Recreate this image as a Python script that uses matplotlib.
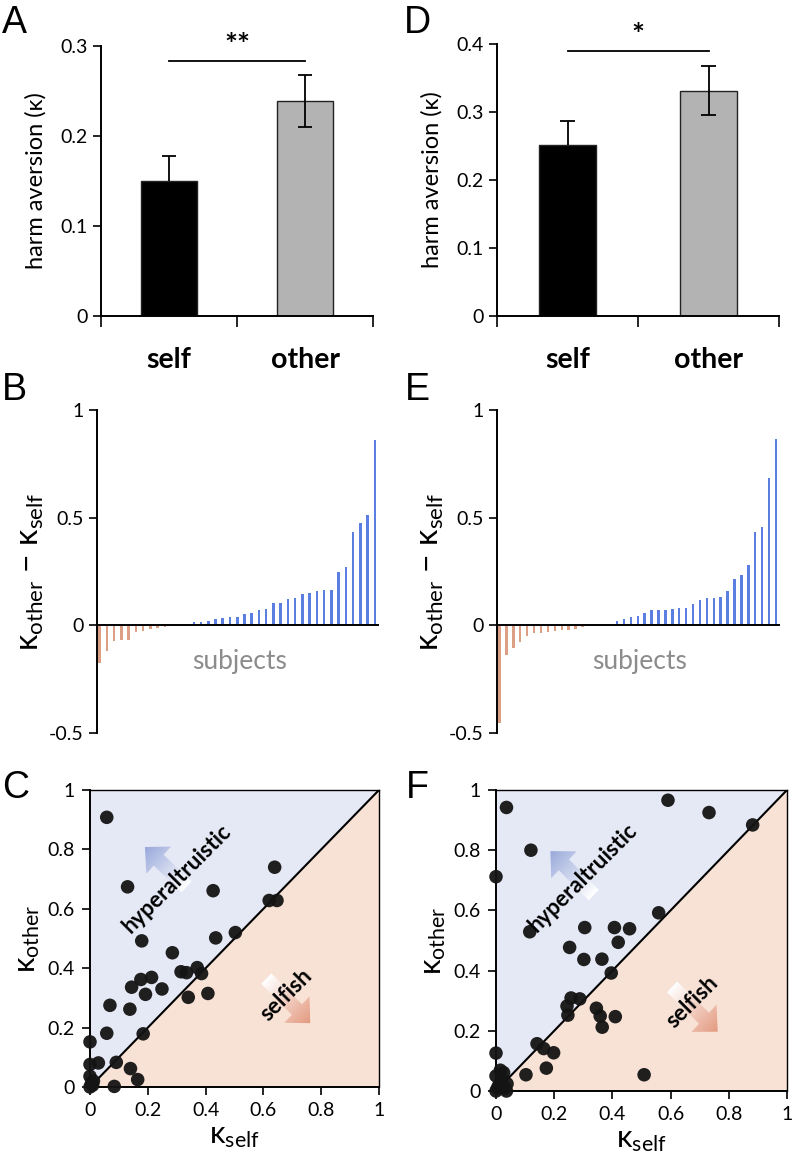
import numpy as np
import matplotlib
matplotlib.use("Agg")
import matplotlib.pyplot as plt
from matplotlib.patches import FancyArrow, Polygon
from matplotlib.colors import to_rgb

plt.rcParams['font.family'] = ['Lato', 'DejaVu Sans']
plt.rcParams['mathtext.fontset'] = 'custom'
plt.rcParams['mathtext.rm'] = 'Lato'
plt.rcParams['mathtext.it'] = 'Lato:italic'
plt.rcParams['axes.linewidth'] = 1.4

# ---- data ----
conditions = ["self", "other"]
# study 1 (A-C)
mean_1 = [0.150, 0.239]
err_lo_1 = [0.0, 0.029]
err_hi_1 = [0.028, 0.029]
sig_1 = "**"
# study 2 (D-F)
mean_2 = [0.251, 0.331]
err_lo_2 = [0.0, 0.036]
err_hi_2 = [0.036, 0.036]
sig_2 = "*"

diff_1 = [-0.175, -0.12, -0.073, -0.07, -0.067, -0.031, -0.026, -0.017, -0.012, -0.006,
          0.0, 0.0, 0.0,
          0.014, 0.017, 0.02, 0.028, 0.034, 0.04, 0.04, 0.053, 0.059, 0.07, 0.076, 0.102,
          0.105, 0.12, 0.125, 0.145, 0.149, 0.16, 0.163, 0.163, 0.25, 0.27, 0.432, 0.477,
          0.512, 0.862]
diff_2 = [-0.454, -0.139, -0.104, -0.079, -0.05, -0.037, -0.034, -0.031, -0.028, -0.023,
          -0.02, -0.015, -0.009, -0.005,
          0.0, 0.0, 0.0,
          0.019, 0.028, 0.039, 0.042, 0.057, 0.073, 0.073, 0.073, 0.076, 0.079, 0.079, 0.1,
          0.116, 0.128, 0.128, 0.133, 0.158, 0.215, 0.232, 0.282, 0.433, 0.455, 0.686, 0.867]

kself_1 = [0.058, 0.130, 0.426, 0.639, 0.620, 0.647, 0.179, 0.435, 0.503, 0.285, 0.315,
           0.334, 0.371, 0.386, 0.144, 0.176, 0.213, 0.192, 0.249, 0.340, 0.408, 0.069,
           0.138, 0.058, 0.184, 0.0, 0.0, 0.029, 0.091, 0.140, 0.165, 0.084, 0.0, 0.009,
           0.0, 0.005, 0.012]
kother_1 = [0.908, 0.674, 0.661, 0.740, 0.628, 0.628, 0.492, 0.502, 0.520, 0.452, 0.388,
            0.385, 0.402, 0.382, 0.336, 0.362, 0.369, 0.312, 0.330, 0.302, 0.315, 0.275,
            0.262, 0.181, 0.179, 0.152, 0.076, 0.081, 0.083, 0.062, 0.025, 0.002, 0.036,
            0.006, 0.0, 0.012, 0.02]

kself_2 = [0.036, 0.591, 0.732, 0.882, 0.120, 0.0, 0.559, 0.116, 0.305, 0.407, 0.459,
           0.420, 0.253, 0.302, 0.364, 0.396, 0.258, 0.288, 0.244, 0.247, 0.345, 0.358,
           0.410, 0.365, 0.141, 0.164, 0.198, 0.173, 0.103, 0.509, 0.0, 0.015, 0.026,
           0.038, 0.036, 0.0, 0.01, 0.02, 0.005, 0.03, 0.0]
kother_2 = [0.942, 0.966, 0.925, 0.884, 0.800, 0.712, 0.592, 0.529, 0.543, 0.543, 0.539,
            0.494, 0.477, 0.437, 0.438, 0.392, 0.309, 0.306, 0.282, 0.252, 0.275, 0.249,
            0.247, 0.212, 0.157, 0.141, 0.127, 0.076, 0.054, 0.054, 0.126, 0.069, 0.061,
            0.024, 0.0, 0.0, 0.02, 0.04, 0.01, 0.01, 0.05]

POS_C = '#5b7fe0'
NEG_C = '#dd9e86'
BLUE_BG = '#e5e8f5'
ORANGE_BG = '#f7e2d5'

fig = plt.figure(figsize=(7.93, 11.64), dpi=100)
W, H = 793.0, 1164.0


def ax_px(l, r, t, b):
    return fig.add_axes([l / W, 1 - b / H, (r - l) / W, (b - t) / H])


def bar_panel(ax, means, lo, hi, ymax, sig, sig_y):
    x = np.arange(len(conditions))
    m = np.array(means)
    ax.bar(x, m, width=0.41, color=['black', '#b3b3b3'], edgecolor='#222222',
           linewidth=1.0, zorder=2)
    # error bars (self has only the upper half)
    ax.vlines(x, m - np.array(lo), m + np.array(hi), color='black', lw=1.3, zorder=3)
    cw = 0.05
    ax.hlines(m + np.array(hi), x - cw, x + cw, color='black', lw=1.3, zorder=3)
    for xi, mi, li in zip(x, m, lo):
        if li > 0:
            ax.hlines(mi - li, xi - cw, xi + cw, color='black', lw=1.3, zorder=3)
    ax.set_xlim(-0.5, 1.5)
    ax.set_ylim(0, ymax)
    ax.set_yticks(np.arange(0, ymax + 0.001, 0.1))
    ax.set_yticklabels(['0'] + ['%.1f' % v for v in np.arange(0.1, ymax + 0.001, 0.1)])
    ax.set_xticks(x)
    ax.set_xticklabels(conditions, fontsize=20.5, fontweight='bold')
    ax.tick_params(axis='x', which='major', length=0, pad=22)
    ax.set_xticks([-0.5, 0.5, 1.5], minor=True)
    ax.tick_params(axis='x', which='minor', length=8, width=1.2, direction='out')
    ax.tick_params(axis='y', length=6, width=1.2, labelsize=14)
    ax.spines['top'].set_visible(False)
    ax.spines['right'].set_visible(False)
    ax.set_ylabel('harm aversion (κ)', fontsize=17, labelpad=10)
    ax.plot(x, [sig_y, sig_y], color='black', lw=1.3, clip_on=False)
    ax.text(0.5, sig_y + ymax * 0.005, sig, ha='center', va='bottom', fontsize=22,
            fontweight='bold', clip_on=False)


def diff_panel(ax, diffs, label_x):
    d = np.array(diffs)
    x = np.arange(len(d))
    cols = [POS_C if v > 0 else NEG_C for v in d]
    ax.bar(x, d, width=0.35, color=cols, zorder=2)
    ax.set_xlim(-0.37, len(d) - 0.56)
    ax.set_ylim(-0.5, 1)
    ax.spines['top'].set_visible(False)
    ax.spines['right'].set_visible(False)
    ax.spines['bottom'].set_position(('data', 0))
    ax.set_xticks([])
    ax.set_yticks([-0.5, 0, 0.5, 1])
    ax.set_yticklabels(['-0.5', '0', '0.5', '1'])
    ax.tick_params(axis='y', length=6, width=1.2, labelsize=14)
    ax.set_ylabel('κ$_{\\mathrm{other}}$ − κ$_{\\mathrm{self}}$', fontsize=23, labelpad=2)
    ax.text(label_x, -0.17, 'subjects', ha='center', va='center',
            fontsize=19, color='#8c8c8c')


def grad_arrow(ax, tail, head, color, width=0.05, head_w=0.125, head_l=0.065):
    x0, y0 = tail
    x1, y1 = head
    arr = FancyArrow(x0, y0, x1 - x0, y1 - y0, width=width, head_width=head_w,
                     head_length=head_l, length_includes_head=True, fc='none',
                     ec='none', zorder=2)
    ax.add_patch(arr)
    xmin, xmax = min(x0, x1) - 0.1, max(x0, x1) + 0.1
    ymin, ymax = min(y0, y1) - 0.1, max(y0, y1) + 0.1
    gx, gy = np.meshgrid(np.linspace(xmin, xmax, 120), np.linspace(ymin, ymax, 120))
    dx, dy = x1 - x0, y1 - y0
    t = ((gx - x0) * dx + (gy - y0) * dy) / (dx * dx + dy * dy)
    t = np.clip(t, 0, 1)[..., None]
    c = np.array(to_rgb(color))
    img = (1 - t) * np.ones(3) + t * c
    im = ax.imshow(img, extent=[xmin, xmax, ymin, ymax], origin='lower', aspect='auto',
                   interpolation='bilinear', zorder=2)
    im.set_clip_path(arr)


def scatter_panel(ax, ks, ko, hyp_txt, hyp_tail, hyp_head, sel_txt, sel_tail, sel_head):
    ax.add_patch(Polygon([[0, 0], [0, 1], [1, 1]], closed=True, fc=BLUE_BG, ec='none', zorder=0))
    ax.add_patch(Polygon([[0, 0], [1, 0], [1, 1]], closed=True, fc=ORANGE_BG, ec='none', zorder=0))
    grad_arrow(ax, hyp_tail, hyp_head, '#98a8da')
    grad_arrow(ax, sel_tail, sel_head, '#e49a80')
    ax.plot([0, 1], [0, 1], color='black', lw=1.5, zorder=3)
    ax.scatter(ks, ko, s=95, color='#141414', alpha=0.95, edgecolors='none', zorder=4,
               clip_on=False)
    ax.text(hyp_txt[0], hyp_txt[1], 'hyperaltruistic', rotation=45, ha='center', va='center',
            rotation_mode='anchor', fontsize=16, fontweight='bold', zorder=5)
    ax.text(sel_txt[0], sel_txt[1], 'selfish', rotation=45, ha='center', va='center',
            rotation_mode='anchor', fontsize=16, fontweight='bold', zorder=5)
    ax.set_xlim(0, 1)
    ax.set_ylim(0, 1)
    ticks = [0, 0.2, 0.4, 0.6, 0.8, 1]
    labels = ['0', '0.2', '0.4', '0.6', '0.8', '1']
    ax.set_xticks(ticks)
    ax.set_xticklabels(labels)
    ax.set_yticks(ticks)
    ax.set_yticklabels(labels)
    ax.tick_params(length=6, width=1.2, labelsize=14, pad=5)
    for s in ['top', 'right']:
        ax.spines[s].set_linewidth(1.0)
    ax.set_xlabel('κ$_{\\mathrm{self}}$', fontsize=22, labelpad=2)
    ax.set_ylabel('κ$_{\\mathrm{other}}$', fontsize=22, labelpad=4)


axA = ax_px(101, 373, 46, 316)
bar_panel(axA, mean_1, err_lo_1, err_hi_1, 0.3, sig_1, 0.283)
axD = ax_px(497, 779, 44, 316)
bar_panel(axD, mean_2, err_lo_2, err_hi_2, 0.4, sig_2, 0.389)

axB = ax_px(97, 378, 410, 733)
diff_panel(axB, diff_1, 19.3)
axE = ax_px(497, 779, 410, 733)
diff_panel(axE, diff_2, 20.3)

axC = ax_px(90, 379, 790, 1087)
scatter_panel(axC, kself_1, kother_1, (0.30, 0.70), (0.334, 0.674), (0.19, 0.808),
              (0.68, 0.31), (0.61, 0.365), (0.762, 0.215))
axF = ax_px(496, 787, 790, 1091)
scatter_panel(axF, kself_2, kother_2, (0.30, 0.71), (0.336, 0.651), (0.187, 0.797),
              (0.675, 0.295), (0.605, 0.346), (0.762, 0.197))

for lab, x, y in [('A', 2, 5), ('D', 404, 5), ('B', 2, 372), ('E', 405, 372),
                  ('C', 2, 770), ('F', 406, 770)]:
    fig.text(x / W, 1 - y / H, lab, fontsize=27, family='Liberation Sans', ha='left', va='top')

fig.savefig('out.png', dpi=100)
